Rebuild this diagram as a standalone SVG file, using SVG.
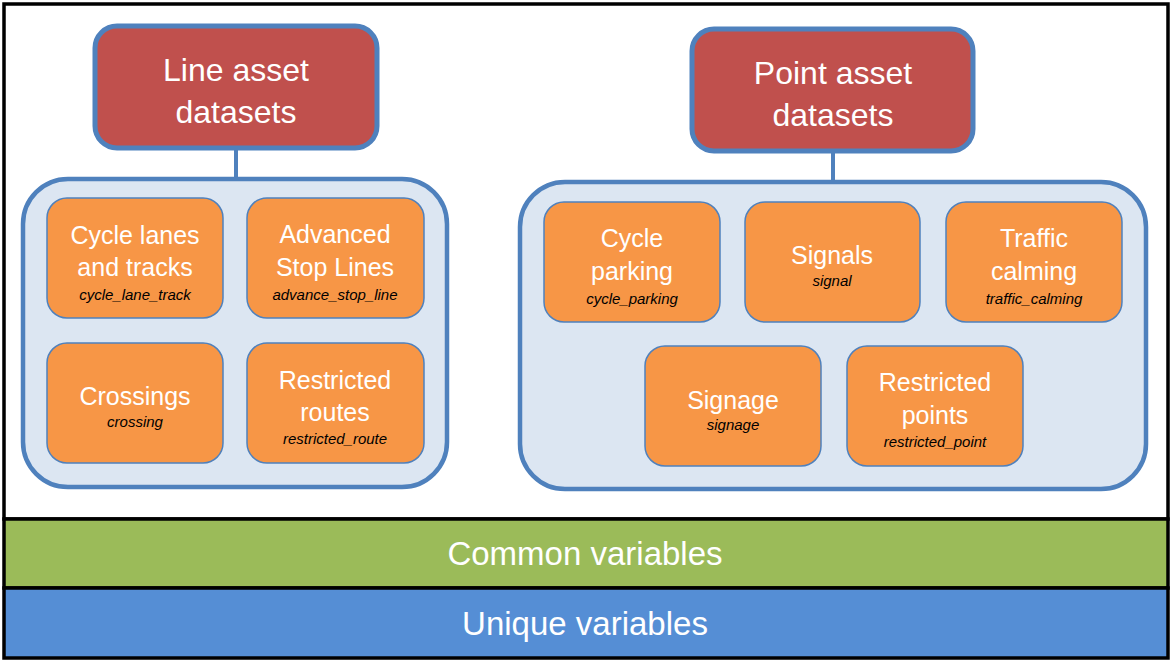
<svg xmlns="http://www.w3.org/2000/svg" width="1176" height="662" viewBox="0 0 1176 662">
<style>
.frame{stroke:#000;stroke-width:3.5}
.hdr{fill:#C0504D;stroke:#4F81BD;stroke-width:5}
.cont{fill:#DCE6F2;stroke:#4F81BD;stroke-width:4.5}
.box{fill:#F79646;stroke:#4F81BD;stroke-width:1.5}
.conn{stroke:#4F81BD;stroke-width:4;fill:none}
text{font-family:"Liberation Sans",Arial,sans-serif;text-anchor:middle;dominant-baseline:central}
.ht{fill:#fff;font-size:32px}
.bt{fill:#fff;font-size:25px}
.it{fill:#000;font-size:15px;font-style:italic}
.band{fill:#fff;font-size:33px}
</style>
<rect class="frame" x="4" y="4" width="1164" height="515" fill="#fff"/>
<g id="common">
<rect class="frame" x="4" y="519" width="1164" height="69" fill="#9BBB59"/>
<text class="band" x="585" y="553">Common variables</text>
</g>
<g id="unique">
<rect class="frame" x="4" y="588" width="1164" height="70" fill="#558ED5"/>
<text class="band" x="585" y="623">Unique variables</text>
</g>
<g id="connectors">
<line class="conn" x1="236" y1="148" x2="236" y2="179"/>
<line class="conn" x1="833" y1="151" x2="833" y2="182"/>
</g>
<g id="line-header">
<rect class="hdr" x="95" y="26" width="282" height="122" rx="22"/>
<text class="ht" x="236" y="70">Line asset</text>
<text class="ht" x="236" y="112">datasets</text>
</g>
<g id="point-header">
<rect class="hdr" x="692" y="29" width="281" height="122" rx="22"/>
<text class="ht" x="833" y="73">Point asset</text>
<text class="ht" x="833" y="115">datasets</text>
</g>
<g id="line-container">
<rect class="cont" x="23" y="179" width="424" height="308" rx="45"/>
</g>
<g id="point-container">
<rect class="cont" x="520" y="182" width="626" height="307" rx="45"/>
</g>
<g id="cycle-lanes">
<rect class="box" x="47" y="198" width="176" height="120" rx="20"/>
<text class="bt" x="135" y="235">Cycle lanes</text>
<text class="bt" x="135" y="267">and tracks</text>
<text class="it" x="135" y="294">cycle_lane_track</text>
</g>
<g id="advanced-stop-lines">
<rect class="box" x="247" y="198" width="177" height="120" rx="20"/>
<text class="bt" x="335" y="234">Advanced</text>
<text class="bt" x="335" y="267">Stop Lines</text>
<text class="it" x="335" y="294">advance_stop_line</text>
</g>
<g id="crossings">
<rect class="box" x="47" y="343" width="176" height="120" rx="20"/>
<text class="bt" x="135" y="396">Crossings</text>
<text class="it" x="135" y="421">crossing</text>
</g>
<g id="restricted-routes">
<rect class="box" x="247" y="343" width="177" height="120" rx="20"/>
<text class="bt" x="335" y="380">Restricted</text>
<text class="bt" x="335" y="412">routes</text>
<text class="it" x="335" y="438">restricted_route</text>
</g>
<g id="cycle-parking">
<rect class="box" x="544" y="202" width="176" height="120" rx="20"/>
<text class="bt" x="632" y="238">Cycle</text>
<text class="bt" x="632" y="271">parking</text>
<text class="it" x="632" y="298">cycle_parking</text>
</g>
<g id="signals">
<rect class="box" x="745" y="202" width="175" height="120" rx="20"/>
<text class="bt" x="832" y="255">Signals</text>
<text class="it" x="832" y="280">signal</text>
</g>
<g id="traffic-calming">
<rect class="box" x="946" y="202" width="176" height="120" rx="20"/>
<text class="bt" x="1034" y="238">Traffic</text>
<text class="bt" x="1034" y="271">calming</text>
<text class="it" x="1034" y="298">traffic_calming</text>
</g>
<g id="signage">
<rect class="box" x="645" y="346" width="176" height="120" rx="20"/>
<text class="bt" x="733" y="400">Signage</text>
<text class="it" x="733" y="424">signage</text>
</g>
<g id="restricted-points">
<rect class="box" x="847" y="346" width="176" height="120" rx="20"/>
<text class="bt" x="935" y="382">Restricted</text>
<text class="bt" x="935" y="415">points</text>
<text class="it" x="935" y="441">restricted_point</text>
</g>
</svg>
